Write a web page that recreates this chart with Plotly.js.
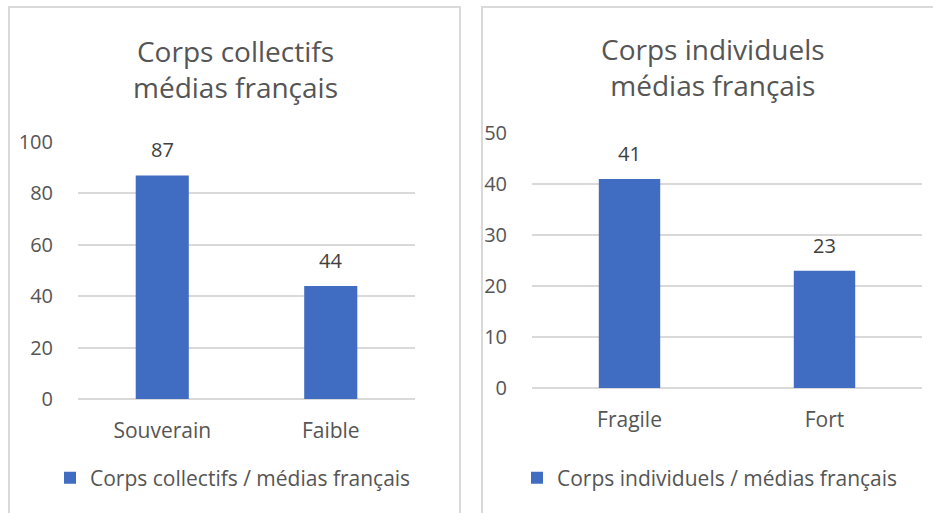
<!DOCTYPE html>
<html>
<head>
<meta charset="utf-8">
<script src="https://cdn.plot.ly/plotly-3.0.1.min.js"></script>
<style>html,body{margin:0;padding:0;background:#fff;}#chart{width:933px;height:513px;}</style>
</head>
<body>
<div id="chart"></div>
<script>
// Data
const leftCategories = ["Souverain", "Faible"];
const leftValues = [87, 44];
const leftSeriesName = "Corps collectifs / médias français";
const leftTitle = "Corps collectifs<br>médias français";
const leftTicks = [0, 20, 40, 60, 80, 100];

const rightCategories = ["Fragile", "Fort"];
const rightValues = [41, 23];
const rightSeriesName = "Corps individuels / médias français";
const rightTitle = "Corps individuels<br>médias français";
const rightTicks = [0, 10, 20, 30, 40, 50];

const FONT = "'Open Sans', 'Noto Sans', sans-serif";
const BLUE = "#406CC2";
const TXT = "#555555";
const GRID = "#d9d9d9";
const W = 933, H = 513;
const px = v => v / W;
const py = v => 1 - v / H;

const traces = [
  {type: "bar", x: leftCategories, y: leftValues, name: leftSeriesName,
   marker: {color: BLUE}, xaxis: "x", yaxis: "y", legend: "legend", hoverinfo: "none"},
  {type: "bar", x: rightCategories, y: rightValues, name: rightSeriesName,
   marker: {color: BLUE}, xaxis: "x2", yaxis: "y2", legend: "legend2", hoverinfo: "none"}
];

const axisX = (domain, anchor) => ({
  domain: domain, type: "category", showgrid: false, showline: false, zeroline: false, anchor: anchor,
  ticks: "", tickfont: {family: FONT, size: 21, color: TXT}, ticklabelstandoff: 17, fixedrange: true
});
const axisY = (domain, range, ticks, anchor) => ({
  domain: domain, range: range, tickvals: ticks, showline: false,
  showgrid: true, gridcolor: GRID, gridwidth: 2, zeroline: true, zerolinecolor: GRID, zerolinewidth: 2,
  ticks: "", tickfont: {family: FONT, size: 20, color: TXT}, ticklabelstandoff: 24, anchor: anchor, fixedrange: true
});

const annotations = [];
const labelFont = {family: FONT, size: 20, color: "#404040"};
leftCategories.forEach((c, i) => annotations.push({
  x: c, y: leftValues[i], xref: "x", yref: "y", text: String(leftValues[i]), showarrow: false,
  yanchor: "bottom", yshift: 10, font: labelFont
}));
rightCategories.forEach((c, i) => annotations.push({
  x: c, y: rightValues[i], xref: "x2", yref: "y2", text: String(rightValues[i]), showarrow: false,
  yanchor: "bottom", yshift: 10, font: labelFont
}));
annotations.push({x: px(235), y: py(69), xref: "paper", yref: "paper", text: leftTitle, showarrow: false,
  xanchor: "center", yanchor: "middle", font: {family: FONT, size: 28, color: TXT}});
annotations.push({x: px(713), y: py(67), xref: "paper", yref: "paper", text: rightTitle, showarrow: false,
  xanchor: "center", yanchor: "middle", font: {family: FONT, size: 28, color: TXT}});

const layout = {
  width: W, height: H, margin: {l: 0, r: 0, t: 0, b: 0},
  paper_bgcolor: "#fff", plot_bgcolor: "#fff",
  bargap: 0.685, showlegend: true,
  xaxis: axisX([px(78), px(415)], "y"),
  yaxis: axisY([1 - 399 / H, 1 - 142 / H], [0, 100], leftTicks, "x"),
  xaxis2: axisX([px(532), px(922)], "y2"),
  yaxis2: axisY([1 - 388 / H, 1 - 133 / H], [0, 50], rightTicks, "x2"),
  legend: {x: px(50), y: py(478), xanchor: "left", yanchor: "middle", orientation: "h",
    font: {family: FONT, size: 21, color: TXT}, bgcolor: "rgba(0,0,0,0)", itemwidth: 30},
  legend2: {x: px(517), y: py(478), xanchor: "left", yanchor: "middle", orientation: "h",
    font: {family: FONT, size: 21, color: TXT}, bgcolor: "rgba(0,0,0,0)", itemwidth: 30},
  shapes: [
    {type: "rect", xref: "paper", yref: "paper", x0: px(9), x1: px(460), y0: -0.05, y1: py(7),
     line: {color: GRID, width: 2}, fillcolor: "rgba(0,0,0,0)", layer: "below"},
    {type: "rect", xref: "paper", yref: "paper", x0: px(482), x1: 1.05, y0: -0.05, y1: py(7),
     line: {color: GRID, width: 2}, fillcolor: "rgba(0,0,0,0)", layer: "below"}
  ],
  annotations: annotations
};

Plotly.newPlot("chart", traces, layout, {displayModeBar: false, staticPlot: true});
</script>
</body>
</html>
